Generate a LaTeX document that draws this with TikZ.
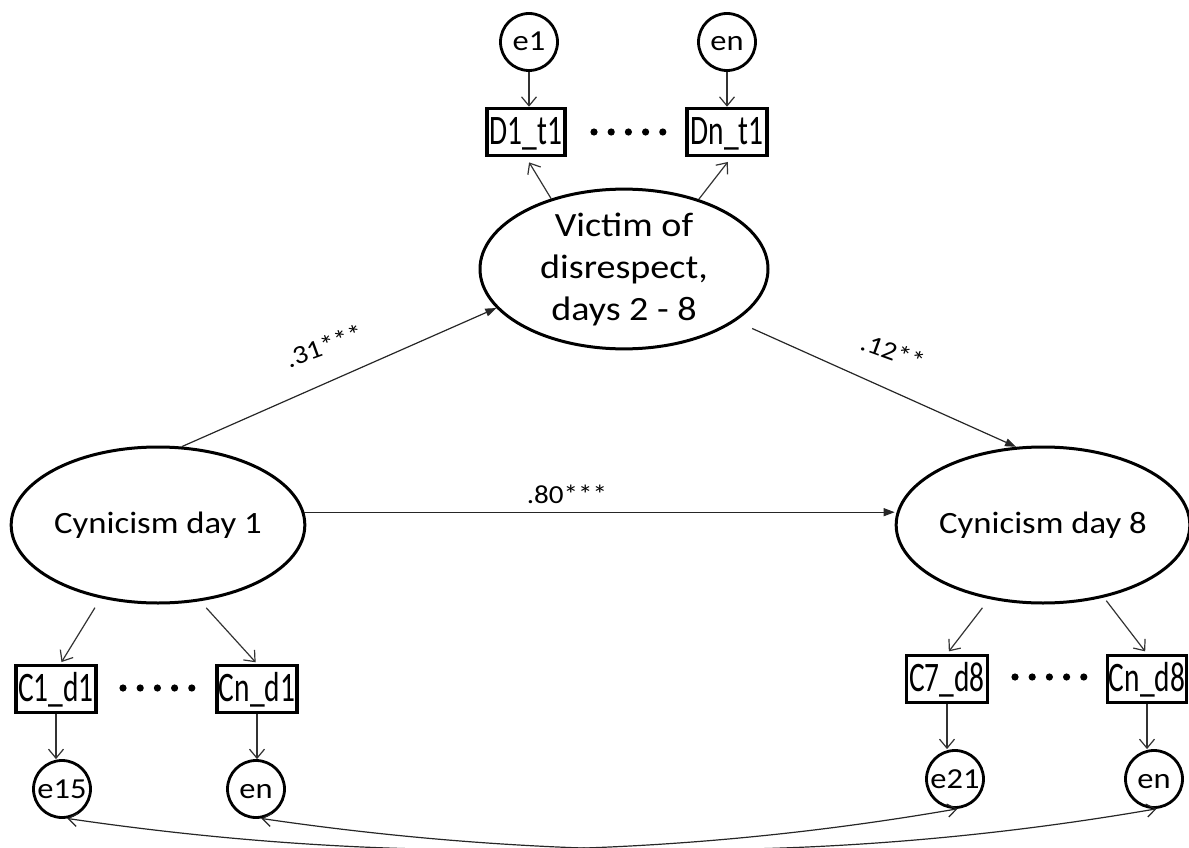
\documentclass[tikz,border=0pt]{standalone}
\usepackage{fontspec}
\setmainfont[FakeStretch=1.12]{Carlito}
\newfontfamily\condfont[FakeStretch=0.7]{Carlito}
\usetikzlibrary{arrows.meta,shapes.geometric,calc}
\begin{document}
\begin{tikzpicture}[x=1pt,y=-1pt,
  latent/.style={ellipse,draw,line width=3pt,inner sep=0pt,minimum width=290pt,minimum height=156pt,font=\fontsize{31}{42}\selectfont,align=center},
  obs/.style={rectangle,draw,line width=3.5pt,inner sep=0pt,minimum width=80pt,minimum height=47pt,text height=27pt,text depth=2pt,font=\condfont\fontsize{42}{42}\selectfont},
  err/.style={circle,draw,line width=2.8pt,inner sep=0pt,minimum size=57pt,text height=18pt,text depth=0pt,font=\fontsize{29}{29}\selectfont},
  meas/.style={draw=black!80,line width=1.2pt,-{Straight Barb[length=9pt,width=15pt]}},
  pathar/.style={draw=black!85,line width=1.2pt,-{Triangle[length=11pt,width=8pt]}},
  cov/.style={draw=black!85,line width=1.2pt,{Straight Barb[length=9pt,width=13pt]}-{Straight Barb[length=9pt,width=13pt]}},
  coef/.style={font=\fontsize{26}{26}\selectfont},
  dotmark/.style={fill=black}
]
\useasboundingbox (0,0) rectangle (1189,848);

% latent variables
\node[latent,minimum width=288pt,font=\fontsize{34}{42}\selectfont] (vic) at (624,269) {Victim of\\disrespect,\\days 2 - 8};
\node[latent] (cyn1) at (158,525) {Cynicism day 1};
\node[latent,minimum width=288pt] (cyn8) at (1043,525) {Cynicism day 8};

% top indicators
\node[err] (e1) at (529,42) {e1};
\node[err] (enT) at (727,42) {en};
\node[obs,minimum width=78pt] (D1) at (526,132) {D1\_t1};
\node[obs] (Dn) at (727,132) {Dn\_t1};

% left indicators
\node[obs] (C1) at (56,689) {C1\_d1};
\node[obs] (Cn1) at (257,689) {Cn\_d1};
\node[err] (e15) at (62,789) {e15};
\node[err] (enL) at (256,789) {en};

% right indicators
\node[obs,minimum width=81pt] (C7) at (947,679) {C7\_d8};
\node[obs,minimum width=79pt] (Cn8) at (1147,679) {Cn\_d8};
\node[err] (e21) at (955,779) {e21};
\node[err] (enR) at (1154,779) {en};

% dots
\foreach \i in {0,...,4} {
  \fill[dotmark] (594+17.2*\i,132) circle (3.6);
  \fill[dotmark] (123+17.2*\i,688) circle (3.6);
  \fill[dotmark] (1015+17.2*\i,677) circle (3.6);
}

% error arrows
\draw[meas] (e1.south) -- (e1.south |- D1.north);
\draw[meas] (enT.south) -- (enT.south |- Dn.north);
\draw[meas] (C1.south) -- (C1.south |- e15.north);
\draw[meas] (Cn1.south) -- (Cn1.south |- enL.north);
\draw[meas] (C7.south) -- (C7.south |- e21.north);
\draw[meas] (Cn8.south) -- (Cn8.south |- enR.north);

% loadings
\draw[meas,shorten >=6pt] (vic.136) -- (D1.south);
\draw[meas,shorten >=6pt] (vic.43) -- (Dn.-80);
\draw[meas,shorten <=11pt,shorten >=2pt] (cyn1.-128) -- (C1.80);
\draw[meas,shorten <=9pt,shorten >=2pt] (cyn1.-61) -- (Cn1.north);
\draw[meas,shorten <=11pt,shorten >=3pt] (cyn8.-126) -- (C7.north);
\draw[meas,shorten <=4pt,shorten >=3pt] (cyn8.-50) -- (Cn8.north);

% structural paths
\draw[pathar] (cyn1.73) -- (vic.197);
\draw[pathar,shorten <=18pt] (vic.-25) -- (cyn8.109);
\draw[pathar] (cyn1.5) -- (cyn1.5 -| cyn8.west);

\node[coef,rotate=20] (l31) at (324,346) {.31***};
\node[coef,rotate=-20] (l12) at (893,352) {.12**};
\node[coef] (l80) at (567,494) {.80***};

% covariances
\draw[cov] (e15.-80) .. controls +(300,44) and +(-300,52) .. (e21.-85);
\draw[cov] (enL.-80) .. controls +(300,44) and +(-300,52) .. (enR.-85);
\end{tikzpicture}
\end{document}
